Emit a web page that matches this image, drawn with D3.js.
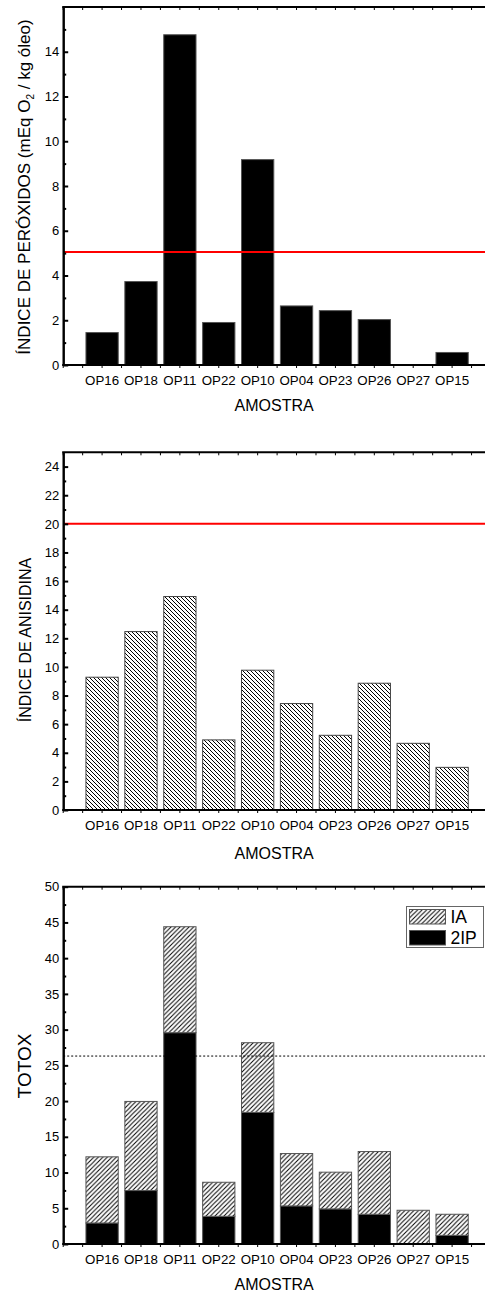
<!DOCTYPE html>
<html>
<head>
<meta charset="utf-8">
<script src="https://cdn.jsdelivr.net/npm/d3@7"></script>
<style>
body { margin: 0; background: #fff; }
text { font-family: "Liberation Sans", Arial, sans-serif; fill: #000; }
</style>
</head>
<body>
<div id="graph"></div>
<script>
// data
var amostras = ["OP16", "OP18", "OP11", "OP22", "OP10", "OP04", "OP23", "OP26", "OP27", "OP15"];
var peroxidos = [1.45, 3.73, 14.76, 1.90, 9.18, 2.64, 2.43, 2.03, 0, 0.56];
var anisidina = [9.28, 12.47, 14.92, 4.90, 9.77, 7.44, 5.22, 8.86, 4.66, 2.98];
var totox2IP = [2.94, 7.48, 29.57, 3.88, 18.41, 5.33, 4.91, 4.16, 0, 1.21];
var totoxIA = [9.26, 12.47, 14.83, 4.76, 9.76, 7.33, 5.14, 8.78, 4.72, 2.95];

var limitePeroxidos = 5.05;
var limiteAnisidina = 20;
var limiteTotox = 26.3;

var ticksPeroxidos = [0, 2, 4, 6, 8, 10, 12, 14];
var minorPeroxidos = [1, 3, 5, 7, 9, 11, 13, 15];
var ticksAnisidina = [0, 2, 4, 6, 8, 10, 12, 14, 16, 18, 20, 22, 24];
var minorAnisidina = [1, 3, 5, 7, 9, 11, 13, 15, 17, 19, 21, 23];
var ticksTotox = [0, 5, 10, 15, 20, 25, 30, 35, 40, 45, 50];
var minorTotox = [2.5, 7.5, 12.5, 17.5, 22.5, 27.5, 32.5, 37.5, 42.5, 47.5];
var legendas = ["IA", "2IP"];

var W = 485, H = 1294;
var left = 63.2, right = 491;

var svg = d3.select("#graph").append("svg")
  .attr("width", W)
  .attr("height", H);

var defs = svg.append("defs");
var pb = defs.append("pattern")
  .attr("id", "hatchBack")
  .attr("patternUnits", "userSpaceOnUse")
  .attr("width", 4).attr("height", 4);
pb.append("rect").attr("width", 4).attr("height", 4).attr("fill", "#fff");
pb.append("path")
  .attr("d", "M0,0 L4,4 M-1,3 L1,5 M3,-1 L5,1")
  .attr("stroke", "#000").attr("stroke-width", 1);
var pf = defs.append("pattern")
  .attr("id", "hatchFwd")
  .attr("patternUnits", "userSpaceOnUse")
  .attr("width", 4.5).attr("height", 4.5);
pf.append("rect").attr("width", 4.5).attr("height", 4.5).attr("fill", "#fff");
pf.append("path")
  .attr("d", "M0,4.5 L4.5,0 M-1,1 L1,-1 M3.5,5.5 L5.5,3.5")
  .attr("stroke", "#000").attr("stroke-width", 1);

var x = d3.scaleBand()
  .domain(amostras)
  .range([left, right])
  .paddingInner(0.17)
  .paddingOuter(0.585);

// half-category ticks on top and bottom axes
var xl = d3.scaleLinear().domain([0, 22]).range([left, right]);
var halfTicks = d3.range(0, 23);

function panel(cfg) {
  var g = svg.append("g");
  var y = d3.scaleLinear().domain([0, cfg.max]).range([cfg.bottom, cfg.top]);

  // bars
  cfg.draw(g, y);

  // reference line
  g.append("line")
    .attr("x1", left).attr("x2", W)
    .attr("y1", y(cfg.limite)).attr("y2", y(cfg.limite))
    .attr("stroke", cfg.limiteCor)
    .attr("stroke-width", cfg.limiteW)
    .attr("stroke-dasharray", cfg.limiteDash);

  // left axis
  var ax = g.append("g").attr("transform", "translate(" + left + ",0)");
  ax.call(d3.axisLeft(y).tickValues(cfg.ticks).tickSize(-5).tickSizeOuter(0).tickPadding(4));
  ax.append("g").call(d3.axisLeft(y).tickValues(cfg.minor).tickSize(-3).tickSizeOuter(0).tickFormat(""));
  ax.selectAll("path.domain").attr("stroke", "#000").attr("stroke-width", 2);
  ax.selectAll(".tick line").attr("stroke", "#000").attr("stroke-width", 2);
  ax.selectAll(".tick text")
    .attr("font-size", 13)
    .attr("font-family", "Liberation Sans, Arial, sans-serif")
    .attr("fill", "#000");

  // top border with ticks
  g.append("line").attr("x1", left - 1).attr("x2", W)
    .attr("y1", cfg.top).attr("y2", cfg.top)
    .attr("stroke", "#000").attr("stroke-width", 2);
  g.selectAll(".ttick").data(halfTicks).enter().append("line")
    .attr("x1", function(d) { return xl(d); })
    .attr("x2", function(d) { return xl(d); })
    .attr("y1", cfg.top).attr("y2", cfg.top + 3)
    .attr("stroke", "#000").attr("stroke-width", 1);

  // bottom axis
  g.append("line").attr("x1", left - 1).attr("x2", W)
    .attr("y1", cfg.bottom).attr("y2", cfg.bottom)
    .attr("stroke", "#000").attr("stroke-width", 2);
  g.selectAll(".btick").data(halfTicks).enter().append("line")
    .attr("x1", function(d) { return xl(d); })
    .attr("x2", function(d) { return xl(d); })
    .attr("y1", cfg.bottom).attr("y2", cfg.bottom + 3)
    .attr("stroke", "#000").attr("stroke-width", 1);

  g.selectAll(".xlab").data(amostras).enter().append("text")
    .attr("x", function(d) { return x(d) + x.bandwidth() / 2; })
    .attr("y", cfg.bottom + 19.5)
    .attr("text-anchor", "middle")
    .attr("font-size", 13.3)
    .text(function(d) { return d; });

  g.append("text")
    .attr("x", (left + right) / 2 - 3)
    .attr("y", cfg.bottom + cfg.xTitleOff)
    .attr("text-anchor", "middle")
    .attr("font-size", 16)
    .text("AMOSTRA");

  var yt = g.append("text")
    .attr("transform", "translate(" + cfg.yTitleX + "," + cfg.yTitleY + ") rotate(-90)")
    .attr("text-anchor", "middle")
    .attr("font-size", cfg.yTitleSize);
  cfg.yTitle(yt);
  return y;
}

// 1. peroxidos
panel({
  top: 7, bottom: 365, max: 16,
  ticks: ticksPeroxidos, minor: minorPeroxidos,
  limite: limitePeroxidos, limiteCor: "#ff0000", limiteW: 2, limiteDash: null,
  xTitleOff: 46, yTitleX: 30, yTitleY: 187, yTitleSize: 17,
  yTitle: function(t) {
    t.append("tspan").text("ÍNDICE DE PERÓXIDOS (mEq O");
    t.append("tspan").attr("font-size", 10).attr("dy", 4).text("2");
    t.append("tspan").attr("dy", -4).text("  / kg óleo)");
  },
  draw: function(g, y) {
    g.selectAll(".bar").data(peroxidos).enter().append("rect")
      .attr("x", function(d, i) { return x(amostras[i]); })
      .attr("width", x.bandwidth())
      .attr("y", function(d) { return y(d); })
      .attr("height", function(d) { return y(0) - y(d); })
      .attr("fill", "#000")
      .attr("stroke", "#555")
      .attr("stroke-width", 1);
  }
});

// 2. anisidina
panel({
  top: 452.3, bottom: 810, max: 25,
  ticks: ticksAnisidina, minor: minorAnisidina,
  limite: limiteAnisidina, limiteCor: "#ff0000", limiteW: 2, limiteDash: null,
  xTitleOff: 48.5, yTitleX: 31, yTitleY: 640, yTitleSize: 16,
  yTitle: function(t) { t.text("ÍNDICE DE ANISIDINA"); },
  draw: function(g, y) {
    g.selectAll(".bar").data(anisidina).enter().append("rect")
      .attr("x", function(d, i) { return x(amostras[i]); })
      .attr("width", x.bandwidth())
      .attr("y", function(d) { return y(d); })
      .attr("height", function(d) { return y(0) - y(d); })
      .attr("fill", "url(#hatchBack)")
      .attr("stroke", "#444")
      .attr("stroke-width", 1);
  }
});

// 3. totox (stacked)
var totoxTable = amostras.map(function(a, i) {
  return { amostra: a, twoIP: totox2IP[i], ia: totoxIA[i] };
});
var stack = d3.stack().keys(["twoIP", "ia"])(totoxTable);

panel({
  top: 886.7, bottom: 1244, max: 50,
  ticks: ticksTotox, minor: minorTotox,
  limite: limiteTotox, limiteCor: "#000", limiteW: 1, limiteDash: "2,2",
  xTitleOff: 46, yTitleX: 31, yTitleY: 1066, yTitleSize: 19,
  yTitle: function(t) { t.text("TOTOX"); },
  draw: function(g, y) {
    g.selectAll(".serie").data(stack).enter().append("g")
      .attr("fill", function(s) { return s.key === "ia" ? "url(#hatchFwd)" : "#000"; })
      .selectAll("rect")
      .data(function(s) { return s; })
      .enter().append("rect")
      .attr("x", function(d) { return x(d.data.amostra); })
      .attr("width", x.bandwidth())
      .attr("y", function(d) { return y(d[1]); })
      .attr("height", function(d) { return y(d[0]) - y(d[1]); })
      .attr("stroke", "#555")
      .attr("stroke-width", function(d) { return d[1] - d[0] > 0 ? 1 : 0; });

    // legend
    var lg = g.append("g");
    lg.append("rect")
      .attr("x", 406.5).attr("y", 906.5)
      .attr("width", 77).attr("height", 41)
      .attr("fill", "#fff").attr("stroke", "#666").attr("stroke-width", 1);
    lg.selectAll(".sw").data(legendas).enter().append("rect")
      .attr("x", 409.5)
      .attr("y", function(d, i) { return 909.5 + i * 21; })
      .attr("width", 36).attr("height", 14.5)
      .attr("fill", function(d, i) { return i === 0 ? "url(#hatchFwd)" : "#000"; })
      .attr("stroke", "#555").attr("stroke-width", 1);
    lg.selectAll(".lt").data(legendas).enter().append("text")
      .attr("x", 450.5)
      .attr("y", function(d, i) { return 922.7 + i * 21.5; })
      .attr("font-size", 17.5)
      .text(function(d) { return d; });
  }
});
</script>
</body>
</html>
